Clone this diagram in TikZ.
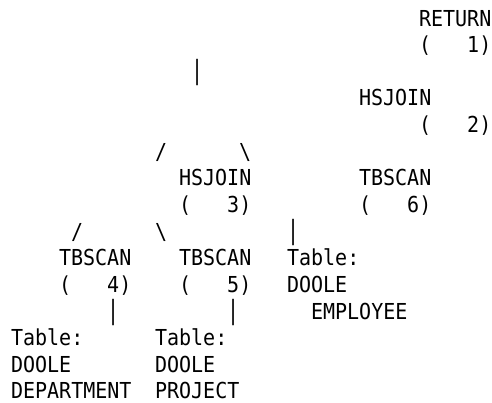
\documentclass[tikz,border=0pt]{standalone}
\usepackage{fontspec}
\setmonofont[FakeStretch=0.91]{DejaVu Sans Mono}
\usepackage{graphicx}
\usepackage{tikz}
\newcommand{\vbar}{\scalebox{1}[1.2]{|}}

\begin{document}
\begin{tikzpicture}[
    x=12pt, y=-26.64pt,
    font=\fontsize{22}{26}\selectfont\ttfamily,
    cell/.style={anchor=base west, inner sep=0pt, outer sep=0pt, text depth=0pt, text=black}
  ]
    \useasboundingbox (-0.917,-0.976) rectangle (40.083,14.114);
    % operators, top part
    \node[cell] (ret) at (34,0) {RETURN};
    \node[cell] (retid) at (34,1) {(\ \ \ 1)};
    \node[cell] (barA) at (15,2) {\vbar};
    \node[cell] (hsjA) at (29,3) {HSJOIN};
    \node[cell] (hsjAid) at (34,4) {(\ \ \ 2)};
    \node[cell] (slA) at (12,5) {/};
    \node[cell] (bsA) at (19,5) {\textbackslash};
    \node[cell] (hsjB) at (14,6) {HSJOIN};
    \node[cell] (hsjBid) at (14,7) {(\ \ \ 3)};
    \node[cell] (tbsE) at (29,6) {TBSCAN};
    \node[cell] (tbsEid) at (29,7) {(\ \ \ 6)};
    % scans
    \node[cell] (slB) at (5,8) {/};
    \node[cell] (bsB) at (12,8) {\textbackslash};
    \node[cell] (barB) at (23,8) {\vbar};
    \node[cell] (tbsC) at (4,9) {TBSCAN};
    \node[cell] (tbsCid) at (4,10) {(\ \ \ 4)};
    \node[cell] (tbsD) at (14,9) {TBSCAN};
    \node[cell] (tbsDid) at (14,10) {(\ \ \ 5)};
    \node[cell] (barC) at (8,11) {\vbar};
    \node[cell] (barD) at (18,11) {\vbar};
    % tables
    \node[cell] (empT) at (23,9) {Table:};
    \node[cell] (empS) at (23,10) {DOOLE};
    \node[cell] (empN) at (25,11) {EMPLOYEE};
    \node[cell] (depT) at (0,12) {Table:};
    \node[cell] (depS) at (0,13) {DOOLE};
    \node[cell] (depN) at (0,14) {DEPARTMENT};
    \node[cell] (prjT) at (12,12) {Table:};
    \node[cell] (prjS) at (12,13) {DOOLE};
    \node[cell] (prjN) at (12,14) {PROJECT};
\end{tikzpicture}
\end{document}
